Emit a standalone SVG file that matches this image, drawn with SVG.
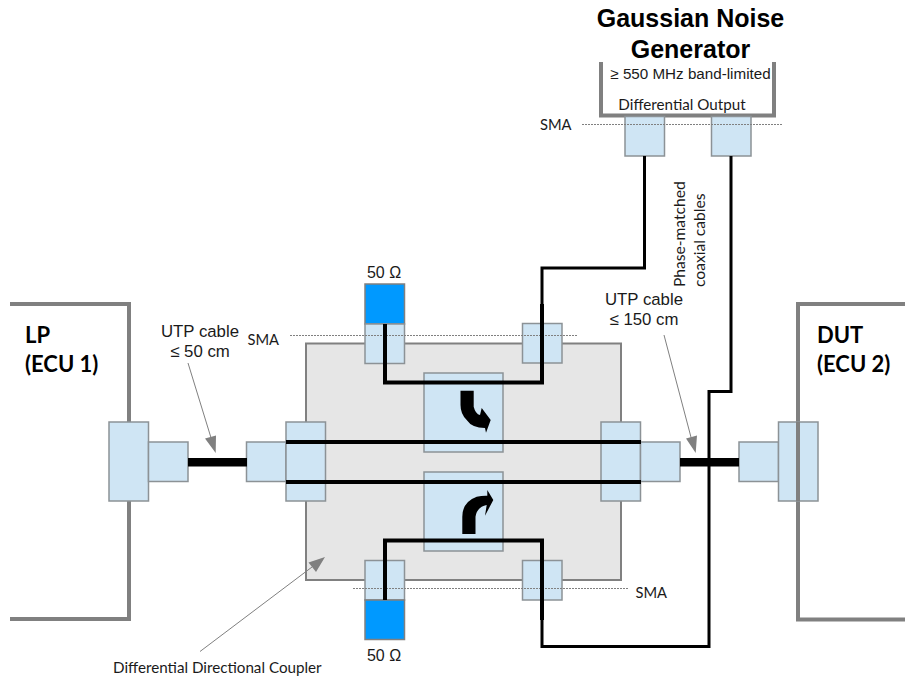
<svg xmlns="http://www.w3.org/2000/svg" width="905" height="679" viewBox="0 0 905 679">
<style>
.box{fill:none;stroke:#808080;stroke-width:4}
.conn{fill:#cfe5f4;stroke:#8c9296;stroke-width:1.5}
.load{fill:#0099ff;stroke:#808080;stroke-width:1.5}
.dash{stroke:#808080;stroke-width:1;stroke-dasharray:2 1;fill:none}
.w{fill:none;stroke:#000;stroke-width:4;stroke-linejoin:miter}
.t{fill:none;stroke:#000;stroke-width:3}
.lead{stroke:#808080;stroke-width:1;fill:none}
.head{fill:#808080}
.a{font-family:"Liberation Sans",Arial,sans-serif;fill:#1a1a1a}
.c{font-family:Lato,"Open Sans",sans-serif;fill:#1a1a1a}
</style>
<g id="generator">
<path class="box" d="M601 62V115.5H774V62"/>
<text class="a" x="690.5" y="27" font-size="25" font-weight="700" text-anchor="middle" style="fill:#000">Gaussian Noise</text>
<text class="a" x="690.5" y="58" font-size="25" font-weight="700" text-anchor="middle" style="fill:#000">Generator</text>
<text class="a" x="690.5" y="79" font-size="15.200" text-anchor="middle">≥ 550 MHz band-limited</text>
<text class="c" x="682" y="110" font-size="15.200" text-anchor="middle">Differential Output</text>
</g>
<g id="lp"><path class="box" d="M10 304H129V619H10"/>
<text class="c" x="25" y="343" font-size="22" font-weight="700" style="fill:#000">LP</text>
<text class="c" x="25" y="372" font-size="22" font-weight="700" style="fill:#000">(ECU 1)</text></g>
<g id="dut"><path class="box" d="M905 304H798V619.5H905"/>
<text class="c" x="817" y="343" font-size="22" font-weight="700" style="fill:#000">DUT</text>
<text class="c" x="817" y="372" font-size="22" font-weight="700" style="fill:#000">(ECU 2)</text></g>
<g id="coupler"><rect x="306" y="343.5" width="315" height="236.5" fill="#e6e6e6" stroke="#808080" stroke-width="2"/>
<rect class="conn" x="424" y="373" width="79" height="79"/>
<rect class="conn" x="424" y="472" width="79" height="79"/>
<path d="M460.500 390.700H473.700V406.700Q475.500 414 480 415L481.700 408L490.700 420L486 432.700L485 428Q472 428 466.700 420Q460.500 414 460.500 405Z"/>
<path d="M462.300 534H475.500V516.700Q477 507 486.700 505L485 515.700L493.300 500L487.300 490L487.300 495.700Q482 495.500 476.700 496.700Q462.300 502 462.300 516.700Z"/>
</g>
<g id="conn-left">
<rect class="conn" x="109" y="422" width="39.500" height="79"/>
<rect class="conn" x="148.500" y="442" width="39.500" height="39.500"/>
<rect class="conn" x="246.500" y="442" width="39.500" height="39.500"/>
<rect class="conn" x="286" y="422" width="39.500" height="79"/></g>
<g id="conn-right">
<rect class="conn" x="601" y="422" width="39.500" height="79"/>
<rect class="conn" x="640.500" y="442" width="39.500" height="39.500"/>
<rect class="conn" x="739" y="442" width="39.500" height="39.500"/>
<rect class="conn" x="778.500" y="422" width="39.500" height="79"/>
<path class="box" d="M798 422V501"/></g>
<g id="sma-top">
<rect class="load" x="365" y="284" width="39.500" height="40"/>
<rect class="conn" x="365" y="324" width="39.500" height="39.500"/>
<rect class="conn" x="522.500" y="323.500" width="39.500" height="39.500"/></g>
<g id="sma-bottom">
<rect class="conn" x="365" y="560.500" width="39.500" height="39.500"/>
<rect class="load" x="365" y="600" width="39.500" height="39.500"/>
<rect class="conn" x="522.500" y="560.500" width="39.500" height="39.500"/></g>
<g id="sma-gen">
<rect class="conn" x="625" y="116.500" width="39.500" height="39.500"/>
<rect class="conn" x="711.500" y="116.500" width="39.500" height="39.500"/></g>
<g id="connectors">
<path class="dash" d="M582 124.500H783M290 335.500H577M353 588.500H629"/>
<path class="w" d="M286 442H641M286 482H641"/>
<path class="w" d="M385 324V382.500H542V304M385 600V540.500H542V620"/>
<path class="t" d="M644.500 156V268H542V304M542 620V646.500H709V391.500H731V156"/>
<path d="M188 458H247V466.500H188ZM680 458H739V466.500H680Z"/>
<path class="lead" d="M188 363L212 441M664 335L692 441M200 651.500L312 567"/>
<path class="head" d="M215.700 453L205 438.500L216 435.500ZM695.700 453L686 438.500L697 435.500ZM325 557L308.500 562.500L316 572Z"/>
</g>
<g id="labels">
<text class="c" x="540" y="130" font-size="14.700">SMA</text>
<text class="c" x="247.500" y="345" font-size="14.700">SMA</text>
<text class="c" x="635.500" y="598" font-size="14.700">SMA</text>
<text class="a" x="384" y="278" font-size="16" text-anchor="middle">50 Ω</text>
<text class="a" x="384" y="661" font-size="16" text-anchor="middle">50 Ω</text>
<text class="a" x="200" y="337" font-size="16.800" text-anchor="middle">UTP cable</text>
<text class="a" x="200" y="357" font-size="16.800" text-anchor="middle">≤ 50 cm</text>
<text class="a" x="644" y="305" font-size="16.800" text-anchor="middle">UTP cable</text>
<text class="a" x="644" y="325" font-size="16.800" text-anchor="middle">≤ 150 cm</text>
<text class="c" x="113" y="673" font-size="15.200">Differential Directional Coupler</text>
<text class="c" font-size="15.600" transform="translate(685 287) rotate(-90)">Phase-matched</text>
<text class="c" font-size="15.600" transform="translate(705 287) rotate(-90)">coaxial cables</text>
</g>
</svg>
